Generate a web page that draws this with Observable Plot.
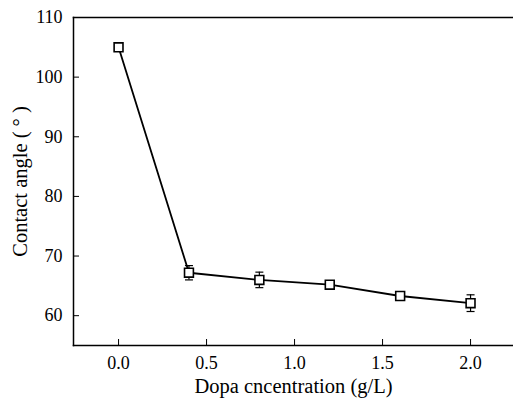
<!DOCTYPE html>
<html><head><meta charset="utf-8">
<script src="https://cdn.jsdelivr.net/npm/d3@7"></script>
<script src="https://cdn.jsdelivr.net/npm/@observablehq/plot@0.6"></script>
<style>
body{margin:0;background:#fff;}
#chart svg, #chart svg text, #chart svg g{font-family:'Liberation Serif', 'DejaVu Serif', serif !important;}
</style>
</head><body><div id="chart"></div>
<script>
const concentration = [0.0, 0.4, 0.8, 1.2, 1.6, 2.0];
const contactAngle = [105.0, 67.2, 66.0, 65.2, 63.3, 62.1];
const errorBar = [0.6, 1.2, 1.3, 0.6, 0.5, 1.4];
const xTicks = [0.0, 0.5, 1.0, 1.5, 2.0];
const yTicks = [60, 70, 80, 90, 100, 110];

const data = concentration.map((c, i) => ({x: c, y: contactAngle[i], lo: contactAngle[i] - errorBar[i], hi: contactAngle[i] + errorBar[i]}));

const cap = {draw(ctx, size){ const r = 4; ctx.moveTo(-r, 0); ctx.lineTo(r, 0); }};
const serif = "Liberation Serif";

const chart = Plot.plot({
  width: 513, height: 400,
  marginLeft: 73, marginTop: 17, marginBottom: 55, marginRight: 0,
  style: {fontSize: "18px", color: "#000", background: "#fff"},
  x: {domain: [-0.256, 2.244]},
  y: {domain: [55, 110]},
  marks: [
    Plot.frame({anchor: "top", stroke: "#000", strokeWidth: 1.5}),
    Plot.frame({anchor: "left", stroke: "#000", strokeWidth: 1.5}),
    Plot.frame({anchor: "bottom", stroke: "#000", strokeWidth: 1.5}),
    Plot.axisX({ticks: xTicks, tickFormat: d3.format(".1f"), tickSize: -6, tickPadding: 17, fontSize: 18, fontFamily: serif, label: null}),
    Plot.axisY({ticks: yTicks, tickFormat: d => d, tickSize: -6, tickPadding: 17, fontSize: 18, fontFamily: serif, label: null}),
    Plot.text(["Dopa cncentration (g/L)"], {frameAnchor: "bottom", dy: 41, fontSize: 20.5, fontFamily: serif, lineAnchor: "middle"}),
    Plot.text(["Contact angle ( ° )"], {frameAnchor: "left", dx: -53, rotate: -90, textAnchor: "middle", fontSize: 20.5, fontFamily: serif}),
    Plot.ruleX(data, {x: "x", y1: "lo", y2: "hi", stroke: "#000", strokeWidth: 1.2}),
    Plot.dot(data, {x: "x", y: "lo", symbol: cap, stroke: "#000", strokeWidth: 1.2}),
    Plot.dot(data, {x: "x", y: "hi", symbol: cap, stroke: "#000", strokeWidth: 1.2}),
    Plot.line(data, {x: "x", y: "y", stroke: "#000", strokeWidth: 1.8}),
    Plot.dot(data, {x: "x", y: "y", symbol: "square", r: 5, fill: "#fff", stroke: "#000", strokeWidth: 1.6})
  ]
});
document.getElementById("chart").appendChild(chart);
</script>
</body></html>
